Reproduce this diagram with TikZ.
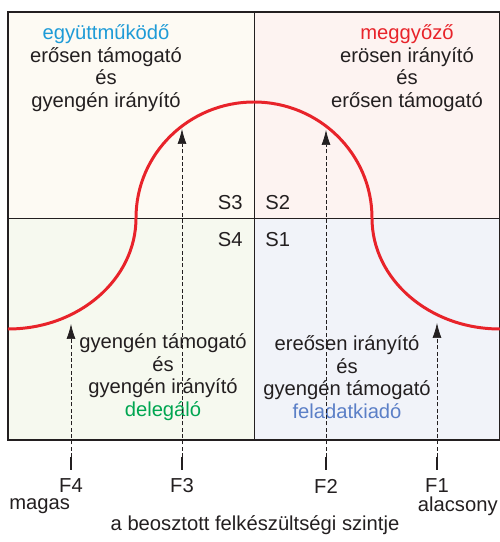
\documentclass[tikz,border=0pt]{standalone}
\usepackage{fontspec}
\setmainfont{Liberation Sans}
\usetikzlibrary{arrows.meta}

\definecolor{qcream}{RGB}{253,250,243}
\definecolor{qpink}{RGB}{253,243,241}
\definecolor{qgreen}{RGB}{246,249,239}
\definecolor{qblue}{RGB}{241,243,249}
\definecolor{curvered}{RGB}{232,35,42}
\definecolor{txtcyan}{RGB}{30,155,215}
\definecolor{txtgreen}{RGB}{0,166,81}
\definecolor{txtblue}{RGB}{91,127,199}
\definecolor{ink}{RGB}{35,31,32}

\begin{document}
\begin{tikzpicture}[x=0.02cm, y=0.02cm,
  every node/.style={text=ink, font=\fontsize{11.5}{12.8}\selectfont},
  quadtext/.style={align=center},
  slabel/.style={inner sep=0pt},
  levelarrow/.style={draw=ink, line width=0.4pt, dash pattern=on 2.3pt off 1.3pt, -{Latex[length=0.3cm, width=0.18cm]}},
  tick/.style={draw=ink, line width=0.9pt},
  redcurve/.style={draw=curvered, line width=1.7pt}]
\useasboundingbox (0,0) rectangle (500,542);
% quadrants
\coordinate (BL) at (8,102);
\coordinate (TR) at (500,530);
\coordinate (M) at (254,324);
\fill[qcream] (8,324) rectangle (254,530);
\fill[qpink] (254,324) rectangle (500,530);
\fill[qgreen] (8,102) rectangle (254,324);
\fill[qblue] (254,102) rectangle (500,324);
\draw[ink, line width=0.5pt] (8,324) -- (500,324);
\draw[ink, line width=0.5pt] (254,102) -- (254,530);
\draw[ink, line width=0.9pt] (BL) rectangle (TR);
% the curve
\draw[redcurve] (8,213) arc[start angle=-90, end angle=0, x radius=128, y radius=111]
  arc[start angle=180, end angle=0, x radius=118, y radius=116]
  arc[start angle=180, end angle=270, x radius=128, y radius=111];
% quadrant texts
\node[quadtext] (q3) at (106,474) {\textcolor{txtcyan}{együttműködő}\\erősen támogató\\és\\gyengén irányító};
\node[quadtext] (q2) at (407,474) {\textcolor{curvered}{meggyőző}\\erösen irányító\\és\\erősen támogató};
\node[quadtext] (q4) at (163,165) {gyengén támogató\\és\\gyengén irányító\\\textcolor{txtgreen}{delegáló}};
\node[quadtext] (q1) at (347,165) {ereősen irányító\\és\\gyengén támogató\\\textcolor{txtblue}{feladatkiadó}};
\node[slabel, anchor=east] (s3) at (243,339) {S3};
\node[slabel, anchor=west] (s2) at (265,339) {S2};
\node[slabel, anchor=east] (s4) at (243,302) {S4};
\node[slabel, anchor=west] (s1) at (265,302) {S1};
% readiness levels
\coordinate (b4) at (71,72);  \coordinate (d4) at (71,85);  \coordinate (t4) at (71,218);
\coordinate (b3) at (182,72); \coordinate (d3) at (182,85); \coordinate (t3) at (182,413);
\coordinate (b2) at (326,72); \coordinate (d2) at (326,85); \coordinate (t2) at (326,412);
\coordinate (b1) at (437,72); \coordinate (d1) at (437,85); \coordinate (t1) at (437,219);
\draw[tick] (b4) -- (d4);
\draw[tick] (b3) -- (d3);
\draw[tick] (b2) -- (d2);
\draw[tick] (b1) -- (d1);
\draw[levelarrow] (d4) -- (t4);
\draw[levelarrow] (d3) -- (t3);
\draw[levelarrow] (d2) -- (t2);
\draw[levelarrow] (d1) -- (t1);
\node[slabel] (f4) at (71,56) {F4};
\node[slabel] (f3) at (182,56) {F3};
\node[slabel] (f2) at (326,56) {F2};
\node[slabel] (f1) at (437,56) {F1};
\node[anchor=west, inner sep=0pt] (high) at (9,36) {magas};
\node[anchor=east, inner sep=0pt] (low) at (498,36) {alacsony};
\node (axis) at (255,17) {a beosztott felkészültségi szintje};
\end{tikzpicture}
\end{document}
